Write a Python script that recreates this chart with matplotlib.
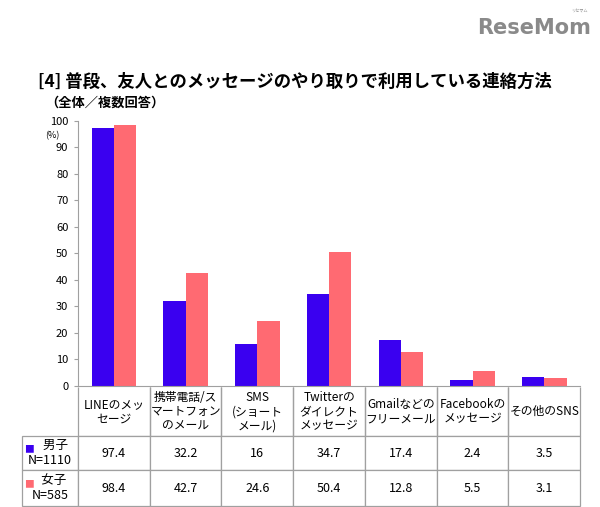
import matplotlib.pyplot as plt
import numpy as np

plt.rcParams['font.family'] = ['Noto Sans CJK JP', 'DejaVu Sans']

categories = ['LINEのメッ\nセージ', '携帯電話/ス\nマートフォン\nのメール', 'SMS\n(ショート\nメール)',
              'Twitterの\nダイレクト\nメッセージ', 'Gmailなどの\nフリーメール', 'Facebookの\nメッセージ', 'その他のSNS']
male = [97.4, 32.2, 16, 34.7, 17.4, 2.4, 3.5]
female = [98.4, 42.7, 24.6, 50.4, 12.8, 5.5, 3.1]
male_labels = ['97.4', '32.2', '16', '34.7', '17.4', '2.4', '3.5']
female_labels = ['98.4', '42.7', '24.6', '50.4', '12.8', '5.5', '3.1']
series_names = ['    男子\nN=1110', '   女子\nN=585']

c_male = '#3a00f0'
c_female = '#ff6a72'
grid_c = '#a0a0a0'

fig = plt.figure(figsize=(6, 5.07), dpi=100)
ax = fig.add_axes([0.13, 0.2387, 0.837, 0.5227])

x = np.arange(len(categories))
w = 0.31
ax.bar(x - w / 2, male, w, color=c_male)
ax.bar(x + w / 2, female, w, color=c_female)

ax.set_xlim(-0.5, len(categories) - 0.5)
ax.set_ylim(0, 100)
ax.set_yticks(range(0, 101, 10))
ax.set_xticks([])
ax.tick_params(axis='y', labelsize=8, length=3, color=grid_c, pad=4)
for s in ['top', 'right']:
    ax.spines[s].set_visible(False)
for s in ['left', 'bottom']:
    ax.spines[s].set_color(grid_c)

# table under the chart
cell_text = [[''] + categories,
             [series_names[0]] + male_labels,
             [series_names[1]] + female_labels]
first_w = 56 / 502
col_w = [first_w] + [1 / len(categories)] * len(categories)
tab = ax.table(cellText=cell_text, colWidths=col_w, cellLoc='center',
               bbox=[-first_w, -0.453, 1 + first_w, 0.449])
tab.auto_set_font_size(False)
row_h = [49, 34, 36]
for (r, c), cell in tab.get_celld().items():
    cell.set_height(row_h[r])
    cell.set_edgecolor(grid_c)
    cell.set_linewidth(0.9)
    txt = cell.get_text()
    txt.set_fontsize(8.5 if r == 0 else 9)
    txt.set_linespacing(1.15)
    if r == 0 and c == 0:
        cell.visible_edges = 'open'
    elif r == 0:
        cell.visible_edges = 'BLR'

# colour squares in row headers
ax.text(-0.097, -0.238, '■', color=c_male, fontsize=7, transform=ax.transAxes,
        ha='center', va='center', clip_on=False)
ax.text(-0.097, -0.372, '■', color=c_female, fontsize=7, transform=ax.transAxes,
        ha='center', va='center', clip_on=False)

ax.text(-0.052, 0.945, '(%)', fontsize=6.5, transform=ax.transAxes, ha='center', va='center')

fig.text(0.063, 0.838, '[4] 普段、友人とのメッセージのやり取りで利用している連絡方法',
         fontsize=12.5, fontweight='bold', va='center')
fig.text(0.075, 0.797, '（全体／複数回答）', fontsize=9.5, fontweight='bold', va='center')
fig.text(0.985, 0.945, 'ReseMom', fontsize=15, fontweight='bold', color='#8a8a8a',
         family=['Liberation Sans Narrow', 'DejaVu Sans'], ha='right', va='center')
fig.text(0.965, 0.978, 'リセマム', fontsize=3, color='#8a8a8a', ha='center', va='center')

plt.savefig('out.png', dpi=100)
